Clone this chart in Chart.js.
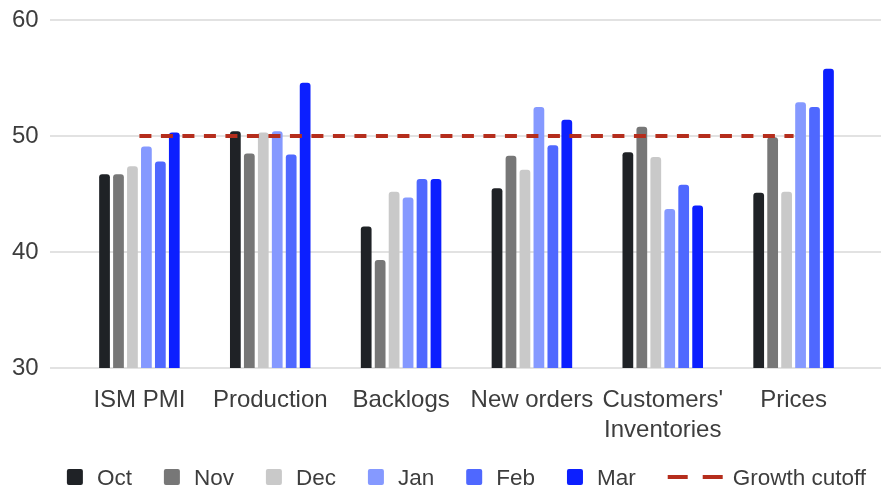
<!DOCTYPE html>
<html>
<head>
<meta charset="utf-8">
<script src="https://cdn.jsdelivr.net/npm/chart.js@4/dist/chart.umd.min.js"></script>
<style>
  html, body { margin: 0; padding: 0; background: #ffffff; }
  #wrap { width: 881px; height: 488px; position: relative; }
</style>
</head>
<body>
<div id="wrap"><canvas id="chart" width="881" height="488"></canvas></div>
<script>
// ISM manufacturing sub-indices, Oct to Mar
const categories = ['ISM PMI', 'Production', 'Backlogs', 'New orders', ["Customers'", 'Inventories'], 'Prices'];
const months = ['Oct', 'Nov', 'Dec', 'Jan', 'Feb', 'Mar'];
const oct = [46.7, 50.4, 42.2, 45.5, 48.6, 45.1];
const nov = [46.7, 48.5, 39.3, 48.3, 50.8, 49.9];
const dec = [47.4, 50.3, 45.2, 47.1, 48.2, 45.2];
const jan = [49.1, 50.4, 44.7, 52.5, 43.7, 52.9];
const feb = [47.8, 48.4, 46.3, 49.2, 45.8, 52.5];
const mar = [50.3, 54.6, 46.3, 51.4, 44.0, 55.8];
const growthCutoff = [50, 50, 50, 50, 50, 50];
const yTicks = [30, 40, 50, 60];

const monthColors = ['#1f2226', '#777777', '#c9c9c9', '#8599ff', '#4f68ff', '#0c1fff'];
const cutoffColor = '#b52d1c';
const textColor = '#3d3d3d';
const fontFamily = '"Liberation Sans", Arial, Helvetica, sans-serif';

const monthSeries = [oct, nov, dec, jan, feb, mar];

const barDatasets = monthSeries.map((values, i) => ({
  type: 'bar',
  label: months[i],
  data: values,
  backgroundColor: monthColors[i],
  borderRadius: { topLeft: 3, topRight: 3, bottomLeft: 0, bottomRight: 0 },
  borderSkipped: 'bottom',
  categoryPercentage: 0.64,
  barPercentage: 0.77,
  order: 1
}));

// dashed 50 line, drawn over the bars
const cutoffDataset = {
  type: 'line',
  label: 'Growth cutoff',
  data: growthCutoff,
  borderColor: cutoffColor,
  borderWidth: 4,
  borderDash: [12, 9.5],
  pointRadius: 0,
  fill: false,
  tension: 0,
  order: 0
};

// Horizontal grid lines that run past the plot area on both sides
const wideGrid = {
  id: 'wideGrid',
  beforeDatasetsDraw(chart) {
    const { ctx, chartArea, scales } = chart;
    ctx.save();
    ctx.strokeStyle = '#d9d9d9';
    ctx.lineWidth = 1.6;
    scales.y.ticks.forEach(t => {
      const py = scales.y.getPixelForValue(t.value);
      ctx.beginPath();
      ctx.moveTo(chartArea.left - 24, py);
      ctx.lineTo(chart.width, py);
      ctx.stroke();
    });
    ctx.restore();
  }
};

// Legend row: square swatches for the months, a dashed stroke for the cutoff line
const bottomLegend = {
  id: 'bottomLegend',
  afterDraw(chart) {
    const { ctx, chartArea } = chart;
    const box = 16, boxGap = 14, itemGap = 32, lineLen = 55, lineGap = 10;
    ctx.save();
    ctx.font = '22.5px ' + fontFamily;
    const items = chart.data.datasets.map(ds => {
      const isLine = ds.type === 'line';
      const tw = ctx.measureText(ds.label).width;
      return { ds, isLine, tw, w: (isLine ? lineLen + lineGap : box + boxGap) + tw };
    });
    const total = items.reduce((s, it) => s + it.w, 0) + itemGap * (items.length - 1);
    let x = (chartArea.left + chartArea.right) / 2 - total / 2;
    const baseline = chart.height - 3;
    const mid = baseline - 8;
    items.forEach(it => {
      if (it.isLine) {
        ctx.strokeStyle = it.ds.borderColor;
        ctx.lineWidth = 4;
        ctx.setLineDash([20, 15]);
        ctx.beginPath();
        ctx.moveTo(x, mid);
        ctx.lineTo(x + lineLen, mid);
        ctx.stroke();
        ctx.setLineDash([]);
        x += lineLen + lineGap;
      } else {
        ctx.fillStyle = it.ds.backgroundColor;
        ctx.beginPath();
        ctx.roundRect(x, mid - box / 2, box, box, 2);
        ctx.fill();
        x += box + boxGap;
      }
      ctx.fillStyle = textColor;
      ctx.textBaseline = 'alphabetic';
      ctx.textAlign = 'left';
      ctx.fillText(it.ds.label, x, baseline);
      x += it.tw + itemGap;
    });
    ctx.restore();
  }
};

new Chart(document.getElementById('chart'), {
  data: {
    labels: categories,
    datasets: [...barDatasets, cutoffDataset]
  },
  options: {
    responsive: false,
    animation: false,
    devicePixelRatio: 1,
    layout: { padding: { top: 20, right: 22, bottom: 48, left: 12 } },
    plugins: {
      legend: { display: false },
      tooltip: { enabled: false }
    },
    scales: {
      x: {
        grid: { display: false, drawTicks: false },
        border: { display: false },
        ticks: {
          color: textColor,
          font: { family: fontFamily, size: 24, lineHeight: 1.22 },
          padding: 18,
          maxRotation: 0,
          autoSkip: false
        },
        afterFit(scale) { scale.height = 72; }
      },
      y: {
        min: 30,
        max: 60,
        grid: { display: false, drawTicks: false },
        border: { display: false },
        afterBuildTicks(scale) { scale.ticks = yTicks.map(v => ({ value: v })); },
        ticks: {
          color: textColor,
          font: { family: fontFamily, size: 24 },
          crossAlign: 'far',
          padding: 0
        },
        afterFit(scale) { scale.width = 62; }
      }
    }
  },
  plugins: [wideGrid, bottomLegend]
});
</script>
</body>
</html>
